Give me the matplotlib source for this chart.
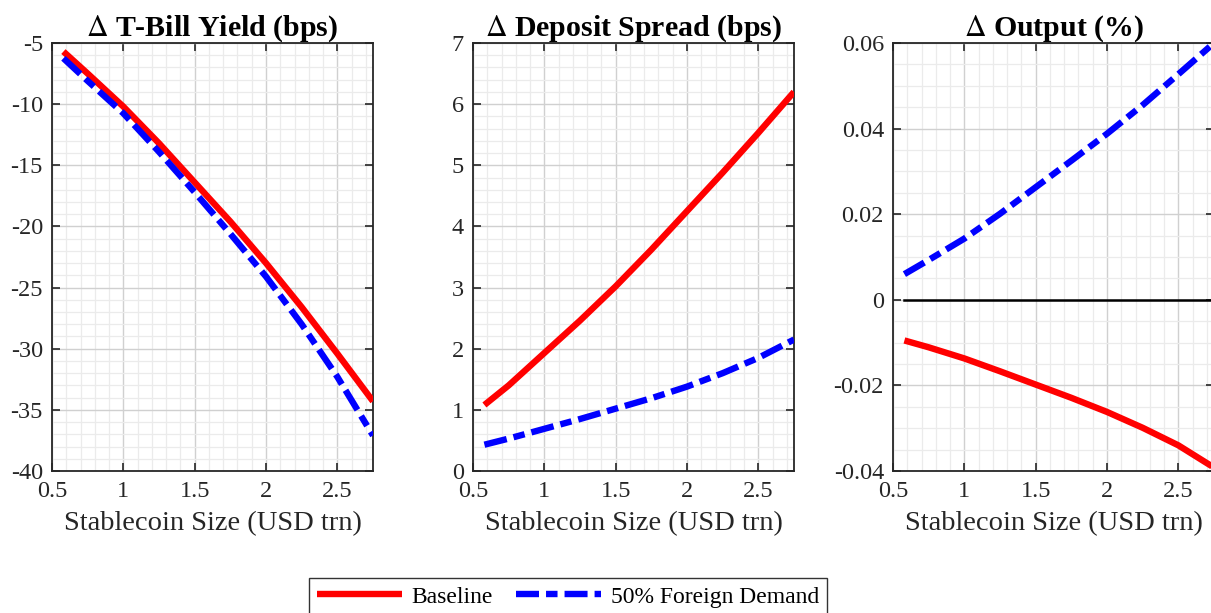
import numpy as np
import matplotlib
matplotlib.use('Agg')
import matplotlib.pyplot as plt
from matplotlib.ticker import MultipleLocator, FuncFormatter

plt.rcParams['font.family'] = ['Liberation Serif', 'DejaVu Serif']
plt.rcParams['axes.unicode_minus'] = False
plt.rcParams['mathtext.fontset'] = 'stix'

# stablecoin size (USD trn)
size = [0.58, 0.75, 1.0, 1.25, 1.5, 1.75, 2.0, 2.25, 2.5, 2.75]

# T-bill yield change (bps)
tbill_base = [-5.7, -7.5, -10.2, -13.2, -16.4, -19.6, -23.0, -26.6, -30.4, -34.3]
tbill_foreign = [-6.25, -8.1, -10.75, -13.9, -17.2, -20.6, -24.1, -28.0, -32.3, -37.1]

# deposit spread change (bps)
dep_base = [1.08, 1.40, 1.93, 2.46, 3.02, 3.62, 4.25, 4.88, 5.53, 6.2]
dep_foreign = [0.43, 0.53, 0.69, 0.85, 1.02, 1.19, 1.38, 1.60, 1.85, 2.15]

# output change (%)
out_base = [-0.0095, -0.0111, -0.0137, -0.0167, -0.0198, -0.0229, -0.0262, -0.0299, -0.0340, -0.0392]
out_foreign = [0.0060, 0.0093, 0.0143, 0.0201, 0.0263, 0.0325, 0.0388, 0.0455, 0.0527, 0.0600]

titles = [r'$\Delta$ T-Bill Yield (bps)', r'$\Delta$ Deposit Spread (bps)', r'$\Delta$ Output (%)']
ylims = [(-40, -5), (0, 7), (-0.04, 0.06)]
ymajor = [5, 1, 0.02]
yminor = [1, 0.2, 0.005]

fig = plt.figure(figsize=(12.11, 6.13), dpi=100)
W, H = 1211.0, 613.0
lefts = [52, 473, 893]
axw = 321
bottom = 1 - 471 / H
height = (471 - 43) / H

dash = (0, (3.6, 1.1, 1.8, 1.1))
txt = '#262626'
fmt = FuncFormatter(lambda v, p: '%g' % round(v, 4))

series = [(tbill_base, tbill_foreign), (dep_base, dep_foreign), (out_base, out_foreign)]
for i in range(3):
    ax = fig.add_axes([lefts[i] / W, bottom, axw / W, height])
    base, foreign = series[i]
    if i == 2:
        ax.plot([size[0], 2.8], [0, 0], color='black', lw=1.8, zorder=2)
    l1, = ax.plot(size, base, color='red', lw=4.6, solid_capstyle='butt',
                  solid_joinstyle='round', zorder=3)
    l2, = ax.plot(size, foreign, color='blue', lw=4.6, linestyle=dash,
                  dash_capstyle='butt', zorder=3)
    ax.set_xlim(0.5, 2.75)
    ax.set_ylim(*ylims[i])
    ax.xaxis.set_major_locator(MultipleLocator(0.5))
    ax.xaxis.set_minor_locator(MultipleLocator(0.1))
    ax.yaxis.set_major_locator(MultipleLocator(ymajor[i]))
    ax.yaxis.set_minor_locator(MultipleLocator(yminor[i]))
    ax.xaxis.set_major_formatter(fmt)
    ax.yaxis.set_major_formatter(fmt)
    ax.grid(which='major', color='#d0d0d0', lw=1.0)
    ax.grid(which='minor', color='#ebebeb', lw=0.9)
    ax.set_axisbelow(True)
    ax.tick_params(which='major', direction='in', length=6, width=1.2,
                   top=True, right=True, labelsize=17.5, colors=txt)
    ax.tick_params(axis='x', which='major', pad=7)
    ax.tick_params(axis='y', which='major', pad=6.5)
    ax.tick_params(which='minor', length=0)
    for s in ax.spines.values():
        s.set_color(txt)
        s.set_linewidth(1.3)
    ax.set_title(titles[i], fontsize=21.5, fontweight='bold', pad=5)
    ax.set_xlabel('Stablecoin Size (USD trn)', fontsize=20.5, color=txt, labelpad=6.5)

leg = fig.legend([l1, l2], ['Baseline', '50% Foreign Demand'], loc='upper center',
                 bbox_to_anchor=(568 / W, 1 - 566 / H), ncol=2, fontsize=17,
                 handlelength=3.6, columnspacing=1.0, handletextpad=0.4,
                 fancybox=False, edgecolor='black', borderpad=0.35)
leg.get_frame().set_linewidth(1.0)

fig.savefig('out.png', dpi=100)
